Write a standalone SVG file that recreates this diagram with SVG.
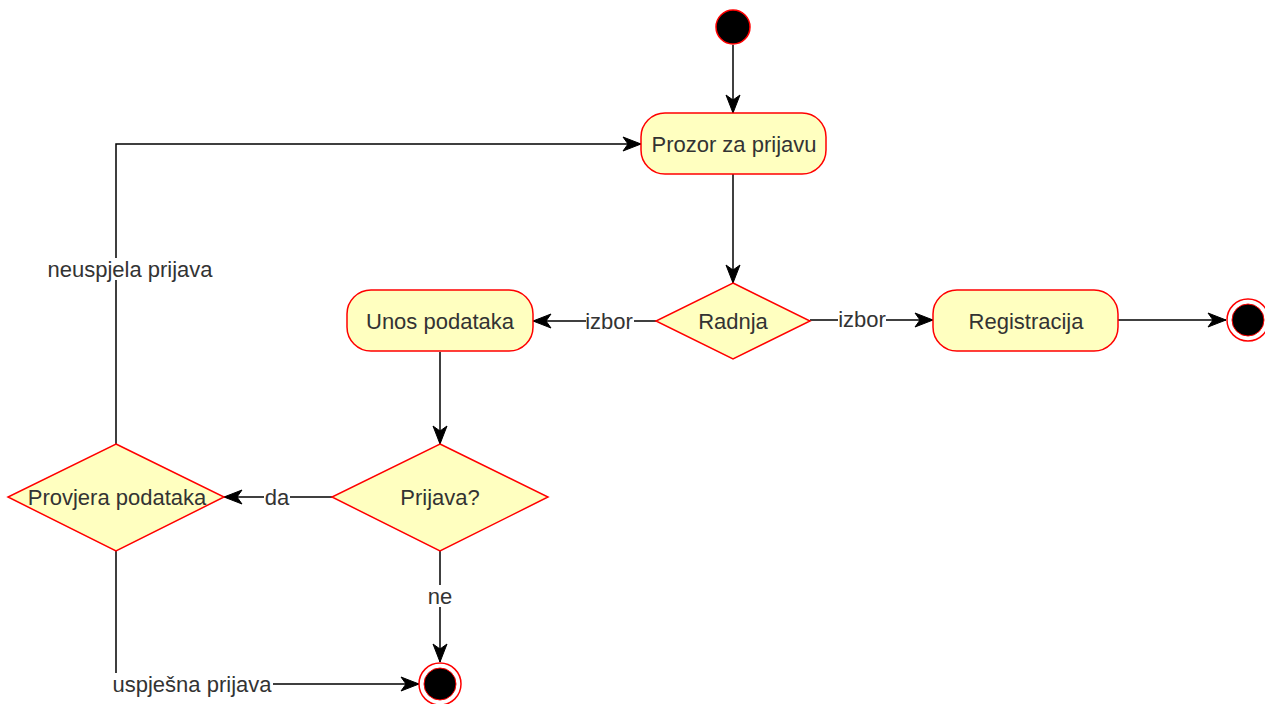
<svg xmlns="http://www.w3.org/2000/svg" width="1265" height="704" viewBox="0 0 1265 704">
<defs>
<marker id="arr" markerUnits="userSpaceOnUse" markerWidth="20" markerHeight="16" viewBox="0 0 20 16" refX="19" refY="8" orient="auto">
<path d="M1,1 L19,8 L1,15 L6,8 Z" fill="#000" stroke="#000" stroke-width="1"/>
</marker>
</defs>
<style>
.act{fill:#ffffc0;stroke:#ff0000;stroke-width:1.5}
.t{font-family:"Liberation Sans",Arial,sans-serif;font-size:22px;fill:#333;text-anchor:middle;dominant-baseline:central}
.e{fill:none;stroke:#000;stroke-width:1.5}
.lb{fill:#fff}
</style>
<rect width="1265" height="704" fill="#fff"/>
<g id="connectors">
<path class="e" d="M733,45 L733,113" marker-end="url(#arr)"/>
<path class="e" d="M733,174 L733,283" marker-end="url(#arr)"/>
<path class="e" d="M656,321 L533,321" marker-end="url(#arr)"/>
<path class="e" d="M810,320 L933,320" marker-end="url(#arr)"/>
<path class="e" d="M1118,320 L1226,320" marker-end="url(#arr)"/>
<path class="e" d="M440,352 L440,444" marker-end="url(#arr)"/>
<path class="e" d="M332,497 L224,497" marker-end="url(#arr)"/>
<path class="e" d="M440,551 L440,662" marker-end="url(#arr)"/>
<path class="e" d="M116,551 L116,684 L419,684" marker-end="url(#arr)"/>
<path class="e" d="M116,444 L116,144 L641,144" marker-end="url(#arr)"/>
<rect class="lb" x="586" y="310" width="48" height="22"/>
<text class="t" x="609" y="321">izbor</text>
<rect class="lb" x="838" y="308" width="48" height="22"/>
<text class="t" x="862" y="319">izbor</text>
<rect class="lb" x="264" y="486" width="26" height="22"/>
<text class="t" x="277" y="497">da</text>
<rect class="lb" x="428" y="585" width="24" height="22"/>
<text class="t" x="440" y="596">ne</text>
<rect class="lb" x="113" y="673" width="160" height="22"/>
<text class="t" x="192" y="684">uspješna prijava</text>
<rect class="lb" x="47" y="258" width="166" height="22"/>
<text class="t" x="130" y="269">neuspjela prijava</text>
</g>
<g id="start"><circle cx="733" cy="27" r="17" fill="#000" stroke="#ff0000" stroke-width="1.5"/></g>
<g id="prozor"><rect class="act" x="641" y="113" width="185" height="61" rx="24"/><text class="t" x="734" y="144">Prozor za prijavu</text></g>
<g id="radnja"><polygon class="act" points="733,283 810,321 733,359 656,321"/><text class="t" x="733" y="321">Radnja</text></g>
<g id="unos"><rect class="act" x="347" y="290" width="186" height="61" rx="24"/><text class="t" x="440" y="321">Unos podataka</text></g>
<g id="registracija"><rect class="act" x="933" y="290" width="185" height="61" rx="24"/><text class="t" x="1026" y="321">Registracija</text></g>
<g id="end1"><circle cx="1248" cy="320" r="21" fill="#fff" stroke="#ff0000" stroke-width="1.5"/><circle cx="1248" cy="320" r="16" fill="#000" stroke="#ff0000" stroke-width="1"/></g>
<g id="prijava"><polygon class="act" points="440,444 548,497 440,551 332,497"/><text class="t" x="440" y="497">Prijava?</text></g>
<g id="provjera"><polygon class="act" points="116,444 224,497 116,551 8,497"/><text class="t" x="117" y="497">Provjera podataka</text></g>
<g id="end2"><circle cx="440" cy="684" r="21" fill="#fff" stroke="#ff0000" stroke-width="1.5"/><circle cx="440" cy="684" r="16" fill="#000" stroke="#ff0000" stroke-width="1"/></g>
</svg>
